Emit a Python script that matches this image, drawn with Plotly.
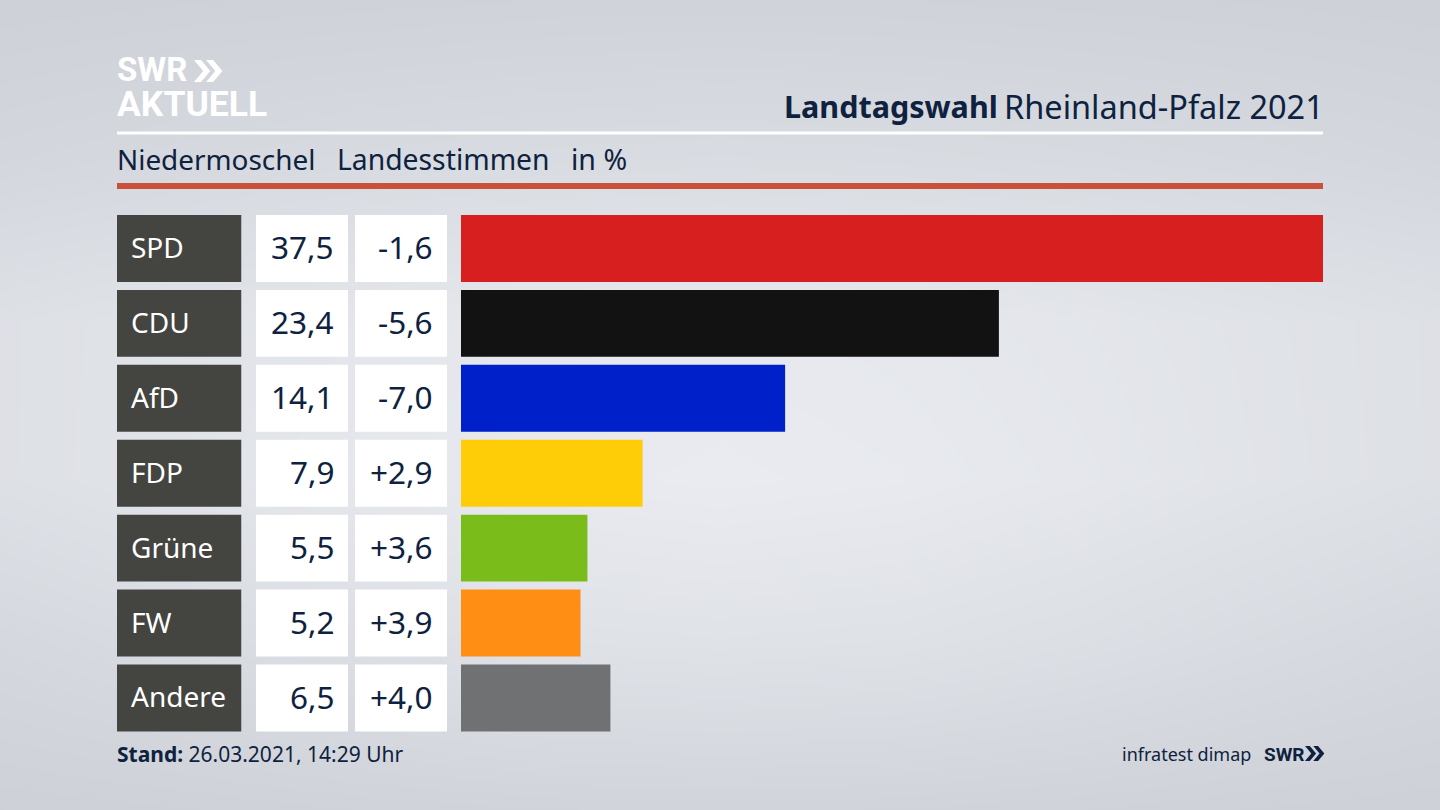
import plotly.graph_objects as go

parties = ["SPD", "CDU", "AfD", "FDP", "Grüne", "FW", "Andere"]
shares = [37.5, 23.4, 14.1, 7.9, 5.5, 5.2, 6.5]
changes = [-1.6, -5.6, -7.0, 2.9, 3.6, 3.9, 4.0]
bar_colors = ["#d71f1f", "#121212", "#0021c9", "#ffcd07", "#7abc19", "#ff8e15", "#707173"]

# backdrop brightness on a coarse grid (top to bottom)
bg_x = [0, 180, 360, 540, 720, 900, 1080, 1260, 1440]
bg_y = [0, 160, 320, 480, 640, 810]
bg_shade = [
    [0.05, 0.08, 0.10, 0.12, 0.13, 0.12, 0.10, 0.08, 0.05],
    [0.25, 0.32, 0.38, 0.42, 0.44, 0.42, 0.38, 0.32, 0.25],
    [0.60, 0.70, 0.80, 0.88, 0.92, 0.88, 0.80, 0.70, 0.60],
    [0.60, 0.72, 0.85, 0.95, 1.00, 0.95, 0.85, 0.72, 0.60],
    [0.30, 0.42, 0.55, 0.65, 0.68, 0.65, 0.55, 0.42, 0.30],
    [0.05, 0.08, 0.12, 0.15, 0.16, 0.15, 0.12, 0.08, 0.05],
]

W, H = 1440, 810
NAVY = "#0e2240"
FONT = "Noto Sans"
LOGO_FONT = "Roboto"


def px(x):
    return x / W


def py(y):
    return 1 - y / H


def de(v, signed=False):
    s = f"{v:+.1f}" if signed else f"{v:.1f}"
    return s.replace(".", ",")


fig = go.Figure()

# background
fig.add_trace(go.Heatmap(
    x=bg_x, y=bg_y, z=bg_shade, zsmooth="best", zmin=0, zmax=1, showscale=False,
    colorscale=[[0, "#ccd0d6"], [1, "#e9ebf0"]], hoverinfo="skip",
    xaxis="x", yaxis="y",
))

# label column, two value columns, then the result bars
fig.add_trace(go.Bar(y=parties, x=[1] * 7, orientation="h", width=0.893,
                     marker=dict(color="#444441", line_width=0), xaxis="x2", yaxis="y2"))
fig.add_trace(go.Bar(y=parties, x=[1] * 7, orientation="h", width=0.893,
                     marker=dict(color="#ffffff", line_width=0), xaxis="x3", yaxis="y2"))
fig.add_trace(go.Bar(y=parties, x=[1] * 7, orientation="h", width=0.893,
                     marker=dict(color="#ffffff", line_width=0), xaxis="x4", yaxis="y2"))
fig.add_trace(go.Bar(y=parties, x=shares, orientation="h", width=0.893,
                     marker=dict(color=bar_colors, line_width=0), xaxis="x5", yaxis="y2"))

hidden = dict(visible=False, fixedrange=True)
fig.update_layout(
    width=W, height=H,
    margin=dict(l=0, r=0, t=0, b=0),
    paper_bgcolor="#d8dbe0",
    plot_bgcolor="rgba(0,0,0,0)",
    showlegend=False,
    font=dict(family=FONT, color=NAVY),
    xaxis=dict(domain=[0, 1], range=[0, W], **hidden),
    yaxis=dict(domain=[0, 1], range=[H, 0], **hidden),
    xaxis2=dict(domain=[px(117), px(241.5)], range=[0, 1], anchor="y2", **hidden),
    xaxis3=dict(domain=[px(256), px(348)], range=[0, 1], anchor="y2", **hidden),
    xaxis4=dict(domain=[px(355), px(447)], range=[0, 1], anchor="y2", **hidden),
    xaxis5=dict(domain=[px(461), px(1323)], range=[0, 37.5], anchor="y2", **hidden),
    yaxis2=dict(domain=[py(735.4), py(211)], categoryorder="array", categoryarray=parties,
                range=[6.5, -0.5], anchor="x2", **hidden),
)

# rules under the header
fig.add_shape(type="rect", xref="paper", yref="paper", x0=px(117), x1=px(1323),
              y0=py(134.5), y1=py(131.5), fillcolor="#ffffff", line_width=0)
fig.add_shape(type="rect", xref="paper", yref="paper", x0=px(117), x1=px(1323),
              y0=py(189), y1=py(183), fillcolor="#c9513a", line_width=0)


def note(text, x, y, size, anchor="left", color=NAVY, family=FONT):
    # annotations carry a little padding around the text, so nudge by it
    x = x - 2 if anchor == "left" else x + 3
    fig.add_annotation(text=text, xref="paper", yref="paper", x=px(x), y=py(y),
                       xanchor=anchor, yanchor="middle", showarrow=False,
                       font=dict(size=size, color=color, family=family))


def chevrons(x, top, h, color):
    # the two arrows of the SWR logo, x is the left tip
    t = h * 0.32
    d = h * 0.55
    for i in range(2):
        x0 = x + i * d
        path = (f"M {x0} {top} L {x0 + t} {top} L {x0 + t + h * 0.42} {top + h / 2} "
                f"L {x0 + t} {top + h} L {x0} {top + h} L {x0 + h * 0.42} {top + h / 2} Z")
        fig.add_shape(type="path", path=path, xref="x", yref="y", fillcolor=color, line_width=0)


# logo
note("<b>SWR</b>", 117, 70, 33, color="#ffffff", family=LOGO_FONT)
note("<b>AKTUELL</b>", 117, 104, 35.5, color="#ffffff", family=LOGO_FONT)
chevrons(194, 60, 22, "#ffffff")

# header
note("<b>Landtagswahl</b>", 997, 106, 30.5, anchor="right")
note("Rheinland-Pfalz 2021", 1323, 106, 32.5, anchor="right")
note("Niedermoschel", 117, 159, 27.9)
note("Landesstimmen", 337, 159, 28.3)
note("in %", 571, 159, 28.5)

# table text
for party, share, change in zip(parties, shares, changes):
    fig.add_annotation(text=party, xref="paper", yref="y2", x=px(129), y=party, xanchor="left", yshift=1.5,
                       yanchor="middle", showarrow=False, font=dict(size=28, color="#ffffff"))
    fig.add_annotation(text=de(share), xref="paper", yref="y2", x=px(335.5), y=party, xanchor="right", yshift=1.5,
                       yanchor="middle", showarrow=False, font=dict(size=31.5, color=NAVY))
    fig.add_annotation(text=de(change, True), xref="paper", yref="y2", x=px(435), y=party, xanchor="right", yshift=1.5,
                       yanchor="middle", showarrow=False, font=dict(size=31.5, color=NAVY))

# footer
note("<b>Stand:</b> 26.03.2021, 14:29 Uhr", 117, 754, 21)
note("infratest dimap", 1122, 754, 18)
note("<b>SWR</b>", 1264, 754, 19, family=LOGO_FONT)
chevrons(1305, 746, 15, NAVY)

fig.write_html("out.html", config={"displayModeBar": False},
               post_script="document.body.style.margin = '0';")
